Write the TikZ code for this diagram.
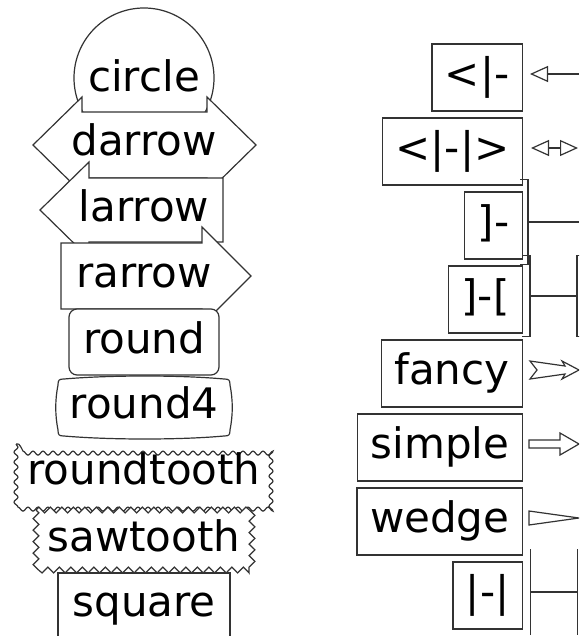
\documentclass[tikz,border=0pt]{standalone}
\usepackage{fontspec}
\setmainfont{DejaVu Sans}
\usetikzlibrary{arrows.meta, decorations.pathmorphing}

\begin{document}
\begin{tikzpicture}[
  x=1pt, y=-1pt,
  line width=1.2pt,
  every node/.style={font=\fontsize{42}{50}\selectfont, text height=32pt, text depth=10pt},
  outline/.style={draw=black!80, fill=white},
  tag/.style={draw=black!80, fill=white, anchor=east, inner xsep=13pt, inner ysep=12.5pt},
  conn/.style={draw=black!80},
  opentri/.tip={Triangle[open, length=18pt, width=16pt]},
  brkwide/.tip={Bracket[reversed, width=86pt, length=8pt]},
  brknarrow/.tip={Bracket[reversed, width=82pt, length=8pt]},
  longbar/.tip={Bar[width=86pt]}
]
\clip (0,0) rectangle (579,636);

% box styles
\draw[outline] (144,78) circle (70pt);
\node (circle) at (144,81) {circle};
\draw[outline] (82,112) -- (82,97) -- (33,145) -- (82,193) -- (82,178) -- (207,178)
  -- (207,193) -- (256,145) -- (207,97) -- (207,112) -- cycle;
\node (darrow) at (144,145) {darrow};
\draw[outline] (89,178) -- (89,162) -- (40,210) -- (89,258) -- (89,242) -- (223,242)
  -- (223,178) -- cycle;
\node (larrow) at (144,210) {larrow};
\draw[outline] (61,243) -- (202,243) -- (202,227) -- (251,276) -- (202,325) -- (202,309)
  -- (61,309) -- cycle;
\node (rarrow) at (144,276) {rarrow};
\draw[outline, rounded corners=8pt] (69,309) rectangle (219,375);
\node (round) at (144,342) {round};
\draw[outline] (64,379) .. controls (110,375) and (180,375) .. (224,379)
  .. controls (229,379) and (230,380) .. (230,385)
  .. controls (233,400) and (233,415) .. (230,430)
  .. controls (230,435) and (229,436) .. (224,436)
  .. controls (180,440) and (110,440) .. (64,436)
  .. controls (59,436) and (58,435) .. (58,430)
  .. controls (55,415) and (55,400) .. (58,385)
  .. controls (58,380) and (59,379) .. (64,379) -- cycle;
\node (round4) at (144,407) {round4};
\draw[outline, decorate, decoration={snake, segment length=10pt, amplitude=2pt}]
  (16,444) rectangle (273,503);
\node (roundtooth) at (144,473) {roundtooth};
\draw[outline, decorate, decoration={zigzag, segment length=11.5pt, amplitude=3pt}]
  (36,510) rectangle (252,570);
\node (sawtooth) at (144,540) {sawtooth};
\draw[outline] (58,573) rectangle (230,650);
\node (square) at (144,605) {square};

% arrow styles
\node[tag] (tri1) at (523,77.5) {<|-};
\node[tag] (tri2) at (523,151.5) {<|-|>};
\node[tag] (brk1) at (523,225.5) {]-};
\node[tag] (brk2) at (523,299.5) {]-[};
\node[tag] (fancy) at (523,373.5) {fancy};
\node[tag] (simple) at (523,447.5) {simple};
\node[tag] (wedge) at (523,521.5) {wedge};
\node[tag] (bar2) at (523,595.5) {|-|};

\coordinate (tri1-s) at ([xshift=7pt, yshift=3.5pt]tri1.east);
\coordinate (tri1-e) at ([xshift=56pt, yshift=3.5pt]tri1.east);
\coordinate (tri2-s) at ([xshift=8pt, yshift=3.5pt]tri2.east);
\coordinate (tri2-e) at ([xshift=55pt, yshift=3.5pt]tri2.east);
\coordinate (brk1-s) at ([xshift=-3pt, yshift=3.5pt]brk1.east);
\coordinate (brk1-e) at ([xshift=56pt, yshift=3.5pt]brk1.east);
\coordinate (brk2-s) at ([xshift=-1pt, yshift=3.5pt]brk2.east);
\coordinate (brk2-e) at ([xshift=62pt, yshift=3.5pt]brk2.east);
\coordinate (fancy-s) at ([xshift=7pt, yshift=3.5pt]fancy.east);
\coordinate (simple-s) at ([xshift=6pt, yshift=3.5pt]simple.east);
\coordinate (wedge-s) at ([xshift=6pt, yshift=3.5pt]wedge.east);
\coordinate (bar2-s) at ([xshift=7pt, yshift=3.5pt]bar2.east);
\coordinate (bar2-e) at ([xshift=55pt, yshift=3.5pt]bar2.east);

\draw[conn, opentri-] (tri1-s) -- (tri1-e);
\draw[conn, opentri-opentri] (tri2-s) -- (tri2-e);
\draw[conn, brkwide-] (brk1-s) -- (brk1-e);
\draw[conn, brknarrow-brknarrow] (brk2-s) -- (brk2-e);
\draw[outline, shift={(fancy-s)}] (0,-9) -- (35,-4) -- (32,-9) -- (49,0) -- (32,9)
  -- (35,4) -- (0,9) -- (7,0) -- cycle;
\draw[outline, shift={(simple-s)}] (0,-4) -- (31,-4) -- (31,-11) -- (50,0) -- (31,11)
  -- (31,4) -- (0,4) -- cycle;
\draw[outline, shift={(wedge-s)}] (0,-7) -- (50,0) -- (0,7) -- cycle;
\draw[conn, longbar-longbar] (bar2-s) -- (bar2-e);
\end{tikzpicture}
\end{document}
